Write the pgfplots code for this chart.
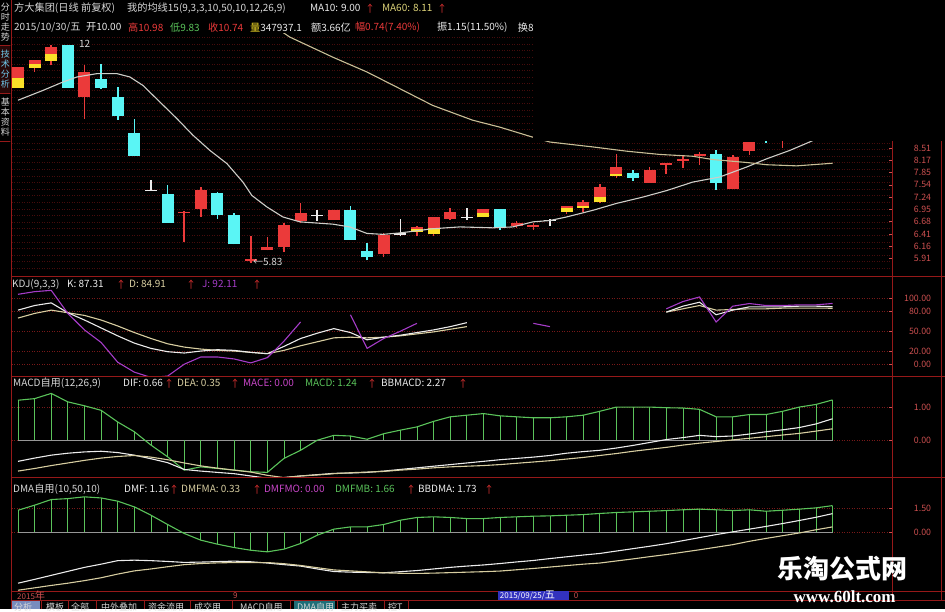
\documentclass[border=0pt]{standalone}
\usepackage{pgfplots}
\pgfplotsset{compat=1.18}
\usepackage{pgfplotstable}
\usepackage{fontspec}
\setmainfont{Noto Sans CJK SC}
\newfontfamily\wmserif{Liberation Serif}

\definecolor{kred}{RGB}{235,58,58}
\definecolor{kcyan}{RGB}{90,245,245}
\definecolor{kyel}{RGB}{250,225,40}
\definecolor{kwht}{RGB}{235,235,235}
\definecolor{ma10c}{RGB}{205,205,200}
\definecolor{ma60c}{RGB}{200,190,150}
\definecolor{ma60t}{RGB}{220,210,120}
\definecolor{txt}{RGB}{215,215,215}
\definecolor{arr}{RGB}{225,50,50}
\definecolor{grn}{RGB}{90,195,90}
\definecolor{pur}{RGB}{165,60,200}
\definecolor{mag}{RGB}{200,70,200}
\definecolor{sep}{RGB}{150,25,25}
\definecolor{lab}{RGB}{205,80,80}
\definecolor{gridc}{RGB}{70,12,12}
\definecolor{gridk}{RGB}{120,25,25}
\definecolor{kd}{RGB}{215,205,160}
\definecolor{zl}{RGB}{150,150,150}
\definecolor{sidec}{RGB}{110,200,235}
\definecolor{sidebg}{RGB}{40,8,8}
\definecolor{datebg}{RGB}{50,50,190}
\definecolor{tabbl}{RGB}{120,140,190}
\definecolor{tabtl}{RGB}{30,110,120}

\pgfplotstableread{
i p
0 9.98
1.5 10.31
2.7 10.60
3.55 10.78
4.75 10.90
5.95 10.90
6.73 10.78
7.52 10.48
8.54 9.92
9.56 9.39
10.52 8.89
11.55 8.45
12.57 8.09
13.53 7.61
14.07 7.28
14.97 7.01
15.93 6.78
16.96 6.67
18.94 6.62
19.96 6.56
20.99 6.42
21.95 6.40
22.97 6.43
24.95 6.52
26.58 6.56
28.56 6.54
29.77 6.56
30.97 6.67
31.99 6.70
33.01 6.78
34.58 6.93
35.99 7.09
37.58 7.24
39.03 7.40
40.59 7.61
42.21 7.74
43.84 8.00
45.04 8.22
46.42 8.45
47.62 8.69
49 9.00
}\maten

\pgfplotstableread{
i p
15.75 12.58
16.36 12.30
18.94 11.51
20.99 10.96
22.97 10.37
24.95 9.81
27.36 9.34
28.98 9.13
30.97 8.83
31.99 8.69
34.58 8.55
36.62 8.43
38.6 8.34
40.59 8.29
41.79 8.20
43.84 8.12
45.04 8.06
46.84 8.03
49 8.10
}\masixty

\pgfplotstableread{
i K D J
0 82 70 106
1 89 77 110
2 93 82 112
3 78 78 77
4 67 74 52
5 55 67 33
6 43 58 3
7 32 48 -12
8 24 39 -20
9 19 31 -18
10 17 26 0
11 20 23 11
12 22 21 11
13 21 20 8
14 18 18 2
15 16 16 10
16 27 21 35
17 39 28 64
18 47 34 nan
19 54 40 nan
20 48 41 75
21 37 40 24
22 41 41 39
23 44 43 50
24 48 46 62
25 52 49 nan
26 57 53 nan
27 63 57 nan
28 nan nan nan
29 nan nan nan
30 nan nan nan
31 nan nan 62
32 nan nan 57
33 nan nan nan
34 nan nan nan
35 nan nan nan
36 nan nan nan
37 nan nan nan
38 nan nan nan
39 79 79 84
40 88 84 95
41 94 89 102
42 75 82 64
43 82 83 88
44 87 84 92
45 87 84 89
46 87 85 89
47 88 85 90
48 88 85 90
49 87.31 84.91 92.11
}\kdj

\pgfplotstableread{
i m dif dea
0 1.23 -0.65 -0.95
1 1.28 -0.55 -0.87
2 1.44 -0.46 -0.78
3 1.18 -0.40 -0.70
4 1.06 -0.36 -0.62
5 0.92 -0.34 -0.55
6 0.56 -0.38 -0.50
7 0.26 -0.46 -0.47
8 -0.15 -0.57 -0.52
9 -0.51 -0.69 -0.60
10 -0.92 -0.90 -0.70
11 -0.82 -0.95 -0.79
12 -0.87 -0.99 -0.86
13 -0.92 -1.03 -0.92
14 -0.97 -1.10 -0.98
15 -0.99 -1.17 -1.08
16 -0.56 -1.15 -1.15
17 -0.31 -1.10 -1.10
18 0.00 -1.06 -1.07
19 0.15 -1.02 -1.03
20 0.13 -1.01 -1.00
21 0.03 -0.99 -0.98
22 0.20 -0.95 -0.96
23 0.31 -0.90 -0.92
24 0.41 -0.85 -0.89
25 0.58 -0.80 -0.85
26 0.72 -0.75 -0.82
27 0.77 -0.70 -0.80
28 0.82 -0.65 -0.78
29 0.75 -0.60 -0.75
30 0.72 -0.56 -0.71
31 0.69 -0.52 -0.67
32 0.69 -0.47 -0.63
33 0.72 -0.40 -0.58
34 0.77 -0.35 -0.53
35 0.89 -0.31 -0.47
36 1.02 -0.24 -0.41
37 1.02 -0.16 -0.34
38 1.02 -0.07 -0.28
39 1.00 0.02 -0.22
40 0.99 0.08 -0.15
41 0.95 0.15 -0.09
42 0.72 0.11 -0.04
43 0.72 0.13 0.01
44 0.79 0.19 0.06
45 0.79 0.26 0.11
46 0.89 0.32 0.16
47 1.02 0.39 0.21
48 1.10 0.50 0.28
49 1.24 0.66 0.35
}\macdtab

\pgfplotstableread{
i m dmf dma
0 1.37 -3.19 -3.63
1 1.69 -2.95 -3.48
2 2.04 -2.70 -3.33
3 2.10 -2.45 -3.19
4 2.21 -2.20 -3.03
5 2.14 -2.00 -2.85
6 1.94 -1.78 -2.62
7 1.58 -1.75 -2.42
8 1.06 -1.78 -2.30
9 0.48 -1.83 -2.16
10 -0.08 -1.89 -2.03
11 -0.50 -1.87 -1.96
12 -0.75 -1.84 -1.92
13 -0.96 -1.81 -1.90
14 -1.13 -1.85 -1.90
15 -1.23 -1.93 -1.90
16 -1.06 -2.03 -1.97
17 -0.71 -2.12 -2.08
18 -0.19 -2.30 -2.22
19 0.19 -2.46 -2.36
20 0.33 -2.50 -2.42
21 0.33 -2.52 -2.48
22 0.48 -2.54 -2.54
23 0.75 -2.47 -2.57
24 0.92 -2.40 -2.58
25 0.96 -2.30 -2.56
26 0.92 -2.20 -2.53
27 0.85 -2.12 -2.50
28 0.85 -2.05 -2.47
29 0.92 -1.96 -2.43
30 0.96 -1.86 -2.35
31 1.00 -1.77 -2.27
32 1.02 -1.65 -2.18
33 1.06 -1.54 -2.09
34 1.10 -1.43 -2.00
35 1.17 -1.33 -1.93
36 1.23 -1.18 -1.80
37 1.27 -1.03 -1.67
38 1.31 -0.88 -1.53
39 1.35 -0.72 -1.40
40 1.40 -0.53 -1.25
41 1.44 -0.34 -1.10
42 1.40 -0.15 -0.94
43 1.35 0.02 -0.78
44 1.40 0.19 -0.57
45 1.31 0.36 -0.39
46 1.37 0.54 -0.22
47 1.44 0.73 -0.05
48 1.52 0.93 0.15
49 1.66 1.16 0.33
}\dmatab

\pgfplotsset{
  panel/.style={scale only axis, width=881pt, xmin=-0.3608, xmax=52.616,
    axis line style={draw=none}, xtick=\empty, ytick pos=right, yticklabel pos=right,
    tick style={draw=lab, line width=0.6pt}, major tick length=4pt, tick align=inside,
    yticklabel style={font=\fontsize{8.8}{9}\selectfont, text=lab, anchor=east, xshift=42pt},
    anchor=south west, clip=true, unbounded coords=jump, filter discard warning=false},
}

\newcommand\Tf{\fontsize{10}{10}\selectfont}
\newcommand\C[1]{{\fontsize{10.2}{11}\selectfont #1}}
\newcommand\tn[4]{\node[anchor=west, inner sep=0pt, text=#3, font=\Tf] at (#1,{609-#2}) {#4};}

\begin{document}
\begin{tikzpicture}
\begin{scope}[x=1pt,y=1pt]
\useasboundingbox (0,0) rectangle (945,609);
\fill[black] (0,0) rectangle (945,609);
\foreach \g in {0,...,35} {
  \draw[gridc, line width=0.5pt, dash pattern=on 1pt off 1.5pt] (12,{609-37-\g*6.6}) -- (893,{609-37-\g*6.6});
}
\end{scope}

% ---------- KDJ panel ----------
\begin{axis}[panel, at={(12pt,233pt)}, height=99pt, ymin=-18.2, ymax=131.8,
  ytick={0,20,50,80,100}, yticklabels={0.00,20.00,50.00,80.00,100.00},
  ymajorgrids, grid style={gridk, line width=0.5pt, dash pattern=on 1pt off 1.5pt}]
\addplot[kd, line width=1.1pt] table[x=i,y=D]{\kdj};
\addplot[kwht, line width=1.1pt] table[x=i,y=K]{\kdj};
\addplot[pur, line width=1.1pt] table[x=i,y=J]{\kdj};
\end{axis}

% ---------- MACD panel ----------
\begin{axis}[panel, at={(12pt,132pt)}, height=100pt, ymin=-1.138, ymax=1.938,
  ytick={0,1}, yticklabels={0.00,1.00},
  ymajorgrids, grid style={gridk, line width=0.5pt, dash pattern=on 1pt off 1.5pt}]
\addplot[zl, line width=0.8pt] coordinates {(0,0) (49,0)};
\addplot[ycomb, grn, line width=0.8pt] table[x=i,y=m]{\macdtab};
\addplot[grn, line width=1.1pt] table[x=i,y=m]{\macdtab};
\addplot[kwht, line width=1.1pt] table[x=i,y=dif]{\macdtab};
\addplot[kd, line width=1.1pt] table[x=i,y=dea]{\macdtab};
\end{axis}

% ---------- DMA panel ----------
\begin{axis}[panel, at={(12pt,18pt)}, height=113pt, ymin=-3.6875, ymax=3.375,
  ytick={0,1.5}, yticklabels={0.00,1.50},
  ymajorgrids, grid style={gridk, line width=0.5pt, dash pattern=on 1pt off 1.5pt}]
\addplot[zl, line width=0.8pt] coordinates {(0,0) (49,0)};
\addplot[ycomb, grn, line width=0.8pt] table[x=i,y=m]{\dmatab};
\addplot[grn, line width=1.1pt] table[x=i,y=m]{\dmatab};
\addplot[kwht, line width=1.1pt] table[x=i,y=dmf]{\dmatab};
\addplot[kd, line width=1.1pt] table[x=i,y=dma]{\dmatab};
\end{axis}

% ---------- price panel (prices on a logarithmic scale via ln filter) ----------
\begin{axis}[panel, at={(12pt,335pt)}, height=241pt,
  y filter/.code={\pgfmathparse{ln(#1)}},
  ymin=1.723962, ymax=2.522042,
  ytick={1.776645,1.818076,1.857858,1.899119,1.938742,1.979621,2.020222,2.060514,2.100469,2.141242},
  yticklabels={5.91,6.16,6.41,6.68,6.95,7.24,7.54,7.85,8.17,8.51}]
\addplot[kred, line width=1.6pt] coordinates {(0,10.41)(0,11.14)(0,nan)(1,10.96)(1,11.39)(1,nan)(2,11.20)(2,11.98)(2,nan)(4,9.39)(4,11.20)(4,nan)(10,6.24)(10,6.91)(10,nan)(11,6.79)(11,7.49)(11,nan)(14,5.83)(14,6.36)(14,nan)(15,6.07)(15,6.34)(15,nan)(16,6.04)(16,6.65)(16,nan)(17,6.64)(17,7.09)(17,nan)(19,6.71)(19,6.93)(19,nan)(22,5.93)(22,6.42)(22,nan)(24,6.36)(24,6.58)(24,nan)(25,6.36)(25,6.77)(25,nan)(26,6.71)(26,6.99)(26,nan)(28,6.77)(28,6.97)(28,nan)(30,6.54)(30,6.69)(30,nan)(31,6.49)(31,6.64)(31,nan)(33,6.84)(33,7.04)(33,nan)(34,6.89)(34,7.16)(34,nan)(35,7.09)(35,7.56)(35,nan)(36,7.71)(36,8.36)(36,nan)(38,7.59)(38,8.00)(38,nan)(39,7.83)(39,8.11)(39,nan)(40,7.98)(40,8.29)(40,nan)(41,8.05)(41,8.41)(41,nan)(43,7.45)(43,8.33)(43,nan)(44,8.32)(44,8.69)(44,nan)(46,8.53)(46,9.35)(46,nan)(47,9.15)(47,9.70)(47,nan)(48,9.45)(48,10.10)(48,nan)(49,9.83)(49,10.98)};
\addplot[kred, line width=12pt] coordinates {(0,10.41)(0,11.14)(0,nan)(1,11.12)(1,11.39)(1,nan)(2,11.36)(2,11.90)(2,nan)(4,10.09)(4,10.96)(4,nan)(10,6.86)(10,6.90)(10,nan)(11,6.97)(11,7.42)(11,nan)(14,5.86)(14,5.90)(14,nan)(15,6.07)(15,6.14)(15,nan)(16,6.13)(16,6.61)(16,nan)(17,6.69)(17,6.87)(17,nan)(19,6.71)(19,6.93)(19,nan)(22,5.99)(22,6.38)(22,nan)(24,6.45)(24,6.56)(24,nan)(25,6.40)(25,6.77)(25,nan)(26,6.74)(26,6.89)(26,nan)(28,6.77)(28,6.97)(28,nan)(30,6.58)(30,6.64)(30,nan)(31,6.56)(31,6.61)(31,nan)(33,6.89)(33,7.02)(33,nan)(34,6.99)(34,7.12)(34,nan)(35,7.12)(35,7.50)(35,nan)(36,7.76)(36,8.00)(36,nan)(38,7.59)(38,7.91)(38,nan)(39,8.06)(39,8.10)(39,nan)(40,8.17)(40,8.21)(40,nan)(41,8.30)(41,8.34)(41,nan)(43,7.45)(43,8.27)(43,nan)(44,8.43)(44,8.69)(44,nan)(46,8.85)(46,9.30)(46,nan)(47,9.25)(47,9.55)(47,nan)(48,9.55)(48,10.00)(48,nan)(49,10.00)(49,10.74)};
\addplot[kyel, line width=12pt] coordinates {(0,10.41)(0,10.73)(0,nan)(1,11.12)(1,11.27)(1,nan)(2,11.36)(2,11.64)(2,nan)(24,6.45)(24,6.51)(24,nan)(25,6.40)(25,6.54)(25,nan)(28,6.77)(28,6.86)(28,nan)(33,6.89)(33,6.99)(33,nan)(34,6.99)(34,7.04)(34,nan)(35,7.12)(35,7.24)(35,nan)(36,7.76)(36,7.81)};
\addplot[kcyan, line width=1.6pt] coordinates {(5,10.37)(5,11.27)(5,nan)(6,9.36)(6,10.42)(6,nan)(7,8.31)(7,9.39)(7,nan)(9,6.65)(9,7.55)(9,nan)(12,6.74)(12,7.37)(12,nan)(13,6.19)(13,6.86)(13,nan)(20,6.29)(20,7.02)(20,nan)(21,5.87)(21,6.21)(21,nan)(29,6.50)(29,6.97)(29,nan)(37,7.64)(37,7.93)(37,nan)(42,7.42)(42,8.47)(42,nan)(45,8.66)(45,9.10)};
\addplot[kcyan, line width=12pt] coordinates {(3,10.41)(3,12.00)(3,nan)(5,10.41)(5,10.72)(5,nan)(6,9.46)(6,10.09)(6,nan)(7,8.31)(7,8.95)(7,nan)(9,6.65)(9,7.31)(9,nan)(12,6.82)(12,7.34)(12,nan)(13,6.19)(13,6.83)(13,nan)(20,6.29)(20,6.93)(20,nan)(21,5.93)(21,6.06)(21,nan)(29,6.54)(29,6.95)(29,nan)(37,7.71)(37,7.84)(37,nan)(42,7.59)(42,8.34)(42,nan)(45,8.85)(45,9.00)};
\addplot[kwht, line width=1.6pt] coordinates {(8,7.40)(8,7.67)(8,nan)(18,6.69)(18,6.93)(18,nan)(23,6.36)(23,6.74)(23,nan)(27,6.71)(27,6.99)(27,nan)(32,6.58)(32,6.74)};
\addplot[kwht, line width=12pt] coordinates {(8,7.39)(8,7.42)(8,nan)(18,6.80)(18,6.83)(18,nan)(23,6.39)(23,6.42)(23,nan)(27,6.76)(27,6.79)(27,nan)(32,6.69)(32,6.72)};
\addplot[ma10c, line width=1.1pt] table[x=i,y=p]{\maten};
\addplot[ma60c, line width=1.1pt] table[x=i,y=p]{\masixty};
\end{axis}

\begin{scope}[x=1pt,y=1pt]
\node[anchor=west, text=txt, font=\Tf, inner sep=0pt] at (79,{609-43}) {12};
\node[anchor=west, text=txt, font=\Tf, inner sep=0pt] at (253,{609-262}) {←5.83};

% mask of the top right
\fill[black] (533,{609-141}) rectangle (945,609);

% frame lines
\draw[sep, line width=0.8pt] (11,{609-276}) -- (945,{609-276});
\draw[sep, line width=0.8pt] (11,{609-376.5}) -- (945,{609-376.5});
\draw[sep, line width=0.8pt] (11,{609-477}) -- (945,{609-477});
\draw[sep, line width=0.8pt] (11,{609-591}) -- (945,{609-591});
\draw[sep, line width=0.8pt] (11,{609-600}) -- (945,{609-600});
\draw[sep, line width=0.8pt] (893,{609-141}) -- (893,{609-600});
\draw[sep, line width=0.8pt] (942,{609-141}) -- (942,{609-600});
\draw[sep, line width=0.8pt] (11,0) -- (11,609);

% left sidebar
\begin{scope}
\clip (0,0) rectangle (10.5,609);
\fill[sidebg] (0,{609-45}) rectangle (10.5,{609-93});
\node[text=txt, font=\fontsize{9}{10}\selectfont, align=center, inner sep=0pt, anchor=north] at (5.5,606) {分\\时\\走\\势};
\node[text=sidec, font=\fontsize{9}{10}\selectfont, align=center, inner sep=0pt, anchor=north] at (5.5,{609-49}) {技\\术\\分\\析};
\node[text=txt, font=\fontsize{9}{10}\selectfont, align=center, inner sep=0pt, anchor=north] at (5.5,{609-97}) {基\\本\\资\\料};
\draw[sep, line width=0.8pt] (0,{609-45}) -- (11,{609-45});
\draw[sep, line width=0.8pt] (0,{609-93}) -- (11,{609-93});
\draw[sep, line width=0.8pt] (0,{609-141}) -- (11,{609-141});
\end{scope}

% header
\tn{14}{8}{txt}{\C{方大集团(日线 前复权)}}
\tn{127}{8}{txt}{\C{我的均线}15(9,3,3,10,50,10,12,26,9)}
\tn{310}{8}{kwht}{MA10: 9.00}
\tn{365}{8}{arr}{↑}
\tn{382}{8}{ma60t}{MA60: 8.11}
\tn{437}{8}{arr}{↑}

\tn{14}{27}{txt}{2015/10/30/\C{五}}
\tn{86}{27}{kwht}{\C{开}10.00}
\tn{128}{27}{kred}{\C{高}10.98}
\tn{170}{27}{grn}{\C{低}9.83}
\tn{208}{27}{kred}{\C{收}10.74}
\tn{250}{27}{kwht}{\textcolor{kyel}{\C{量}}347937.1}
\tn{311}{27}{kwht}{\C{额}3.66\C{亿}}
\tn{355}{27}{kred}{\C{幅}0.74(7.40\%)}
\tn{437}{27}{kwht}{\C{振}1.15(11.50\%)}
\tn{518}{27}{kwht}{\C{换}8}
\fill[black] (533,{609-40}) rectangle (560,609);

% KDJ title
\tn{12}{284}{txt}{KDJ(9,3,3)}
\tn{67}{284}{kwht}{K: 87.31}
\tn{116}{284}{arr}{↑}
\tn{129}{284}{kd}{D: 84.91}
\tn{186}{284}{arr}{↑}
\tn{202}{284}{pur}{J: 92.11}
\tn{252}{284}{arr}{↑}

% MACD title
\tn{13}{383}{txt}{MACD\C{自用}(12,26,9)}
\tn{123}{383}{kwht}{DIF: 0.66}
\tn{164}{383}{arr}{↑}
\tn{177}{383}{kd}{DEA: 0.35}
\tn{230}{383}{arr}{↑}
\tn{243}{383}{mag}{MACE: 0.00}
\tn{305}{383}{grn}{MACD: 1.24}
\tn{367}{383}{arr}{↑}
\tn{381}{383}{kwht}{BBMACD: 2.27}
\tn{458}{383}{arr}{↑}

% DMA title
\tn{13}{489}{txt}{DMA\C{自用}(10,50,10)}
\tn{124}{489}{kwht}{DMF: 1.16}
\tn{169}{489}{arr}{↑}
\tn{181}{489}{kd}{DMFMA: 0.33}
\tn{252}{489}{arr}{↑}
\tn{264}{489}{mag}{DMFMO: 0.00}
\tn{335}{489}{grn}{DMFMB: 1.66}
\tn{406}{489}{arr}{↑}
\tn{418}{489}{kwht}{BBDMA: 1.73}
\tn{484}{489}{arr}{↑}

% date row
\node[anchor=west, inner sep=0pt, text=lab, font=\fontsize{8}{8}\selectfont] at (17,{609-595.5}) {2015\C{年}};
\node[anchor=west, inner sep=0pt, text=lab, font=\fontsize{8}{8}\selectfont] at (233,{609-595.5}) {9};
\fill[datebg] (498,{609-591}) rectangle (569,{609-600});
\node[anchor=west, inner sep=0pt, text=white, font=\fontsize{8}{8}\selectfont] at (500,{609-595.5}) {2015/09/25/\C{五}};
\node[anchor=west, inner sep=0pt, text=lab, font=\fontsize{8}{8}\selectfont] at (574,{609-595.5}) {0};

% bottom tabs
\fill[tabbl] (12,0) rectangle (40,{609-601});
\fill[tabtl] (294,0) rectangle (335,{609-601});
\foreach \xx/\tt in {14/分析,46/模板,71/全部,101/中外叠加,148/资金流用,194/成交用,240/MACD自用,297/DMA自用,341/主力买卖,388/控T}{
  \node[anchor=west, inner sep=0pt, text=txt, font=\fontsize{9}{9}\selectfont] at (\xx,{609-607}) {\tt};
}
\foreach \xx in {41,68,96,144,190,232,290,337,384,408}{
  \draw[sep, line width=0.6pt] (\xx,0) -- (\xx,{609-601});
}

% watermark
\node[text=white, font=\fontsize{26}{26}\selectfont\bfseries, inner sep=0pt] at (843,{609-568}) {乐淘公式网};
\node[text=white, font=\wmserif\fontsize{17}{17}\selectfont\bfseries, inner sep=0pt] at (845,{609-597}) {www.60lt.com};
\end{scope}
\end{tikzpicture}
\end{document}
